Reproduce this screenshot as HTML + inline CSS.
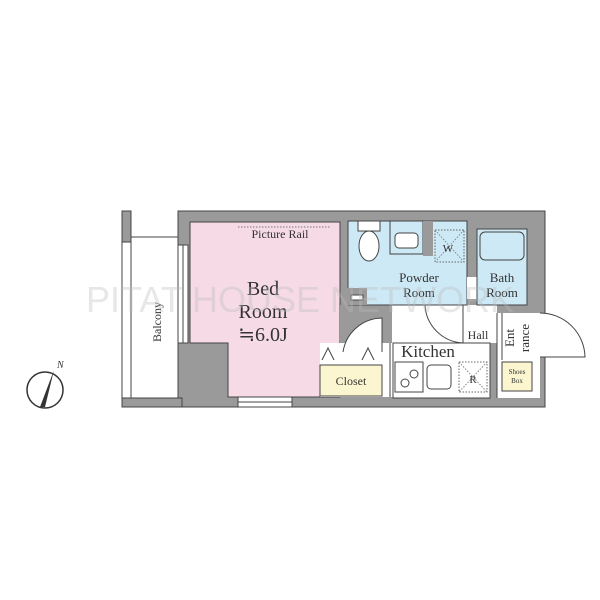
<!DOCTYPE html>
<html><head><style>body{margin:0;background:#fff}svg{display:block}</style></head><body>
<svg width="600" height="600" viewBox="0 0 600 600" xmlns="http://www.w3.org/2000/svg" font-family="Liberation Serif, serif">
<rect width="600" height="600" fill="#fff"/>
<rect x="122" y="211" width="9" height="31" fill="#9a9a9a" stroke="#444" stroke-width="1"/>
<line x1="131" y1="237" x2="178" y2="237" stroke="#444"/>
<line x1="122" y1="242" x2="122" y2="400" stroke="#444"/>
<line x1="131" y1="242" x2="131" y2="398" stroke="#444"/>
<line x1="131" y1="398" x2="178" y2="398" stroke="#444"/>
<rect x="178" y="211" width="367" height="196" fill="#9a9a9a" stroke="#444"/>
<rect x="122" y="398" width="60" height="9" fill="#9a9a9a" stroke="#444"/>
<path d="M190 222 H340 V343 H340 V397 H228 V343 H190 Z" fill="#f6dbe6" stroke="#444"/>
<rect x="178" y="245" width="10" height="98" fill="#fff" stroke="#444"/>
<line x1="183" y1="245" x2="183" y2="343" stroke="#444"/>
<rect x="238" y="397" width="54" height="10" fill="#fff" stroke="#444"/>
<line x1="238" y1="402" x2="292" y2="402" stroke="#444"/>
<line x1="238" y1="227" x2="330" y2="227" stroke="#777" stroke-dasharray="1.5 1.5"/>
<path d="M340 305 V343 H320 V397 H490 V343 H497 V305 Z" fill="#fff"/>
<rect x="340" y="305" width="52" height="38" fill="#9a9a9a"/>
<rect x="393" y="343" width="97" height="55" fill="#fff" stroke="#444"/>
<rect x="340" y="343" width="52" height="22" fill="#fff"/>
<rect x="320" y="365" width="62" height="31" fill="#fbf6cf" stroke="#444"/>
<line x1="390" y1="343" x2="390" y2="397" stroke="#444"/>
<path d="M343 352 A40 40 0 0 1 382 318 V352" fill="#fff" stroke="#444"/>
<path d="M322 360 l6 -12 l6 12 M362 360 l6 -12 l6 12" fill="#fff" stroke="#444"/>
<rect x="395" y="362" width="28" height="30" fill="#fff" stroke="#444"/>
<circle cx="405" cy="383" r="4" fill="none" stroke="#444"/><circle cx="414" cy="374" r="4" fill="none" stroke="#444"/>
<rect x="427" y="365" width="24" height="24" rx="4" fill="#fff" stroke="#444"/>
<rect x="459" y="362" width="28" height="30" fill="#fff" stroke="#666" stroke-dasharray="1.5 1.5"/>
<path d="M459 362 L487 392 M487 362 L459 392" stroke="#888" stroke-dasharray="1.5 1.5"/>
<rect x="348" y="221" width="119" height="84" fill="#cde9f5" stroke="#444"/>
<rect x="347" y="288" width="20" height="17" fill="#9a9a9a"/>
<rect x="351" y="295" width="12" height="5" fill="#fff" stroke="#444"/>
<rect x="358" y="221" width="22" height="10" fill="#fff" stroke="#444"/>
<ellipse cx="369" cy="246" rx="10" ry="15" fill="#fff" stroke="#444"/>
<rect x="390" y="221" width="33" height="33" fill="#cde9f5" stroke="#444"/>
<rect x="395" y="233" width="23" height="15" rx="4" fill="#fff" stroke="#444"/>
<rect x="423" y="221" width="10" height="35" fill="#9a9a9a"/>
<rect x="435" y="230" width="29" height="32" fill="#cde9f5" stroke="#666" stroke-dasharray="1.5 1.5"/>
<path d="M435 230 L464 262 M464 230 L435 262" stroke="#888" stroke-dasharray="1.5 1.5"/>
<rect x="467" y="277" width="10" height="22" fill="#fff"/>
<rect x="477" y="229" width="50" height="76" fill="#cde9f5" stroke="#444"/>
<rect x="480" y="232" width="44" height="28" rx="5" fill="#cde9f5" stroke="#444"/>
<rect x="497" y="313" width="43" height="85" fill="#fff"/>
<line x1="497" y1="313" x2="497" y2="398" stroke="#444"/>
<line x1="502" y1="313" x2="502" y2="360" stroke="#444"/>
<rect x="502" y="362" width="30" height="29" fill="#fbf6cf" stroke="#444"/>
<rect x="540" y="313" width="5" height="44" fill="#fff"/>
<path d="M540 313 A45 45 0 0 1 585 357 H540" fill="#fff" stroke="#444"/>
<path d="M425 305 A40 40 0 0 0 463 343 V305" fill="none" stroke="#444"/>
<g fill="#333" text-anchor="middle">
<text x="280" y="238" font-size="12">Picture Rail</text>
<text x="263" y="295" font-size="20">Bed</text>
<text x="263" y="318" font-size="20">Room</text>
<text x="263" y="341" font-size="20">≒6.0J</text>
<text x="419" y="282" font-size="13">Powder</text>
<text x="419" y="297" font-size="13">Room</text>
<text x="502" y="282" font-size="13">Bath</text>
<text x="502" y="297" font-size="13">Room</text>
<text x="428" y="357" font-size="17">Kitchen</text>
<text x="478" y="339" font-size="12">Hall</text>
<text x="351" y="385" font-size="12">Closet</text>
<text x="448" y="252" font-size="11">W</text>
<text x="473" y="383" font-size="11">R</text>
<text x="517" y="374" font-size="7">Shoes</text>
<text x="517" y="383" font-size="7">Box</text>
<text transform="translate(161 322) rotate(-90)" font-size="12">Balcony</text>
<text transform="translate(514 338) rotate(-90)" font-size="13">Ent</text>
<text transform="translate(529 338) rotate(-90)" font-size="13">rance</text>
</g>
<text x="300" y="312" font-family="Liberation Sans, sans-serif" font-size="36" fill="#bbb" fill-opacity="0.35" text-anchor="middle">PITAT HOUSE NETWORK</text>
<circle cx="45" cy="390" r="18" fill="none" stroke="#333" stroke-width="1.5"/>
<path d="M54 370 L40 407 L45 407 Z" fill="#333"/>
<text x="57" y="368" font-size="10" fill="#333" font-style="italic">N</text>
</svg>
</body></html>
